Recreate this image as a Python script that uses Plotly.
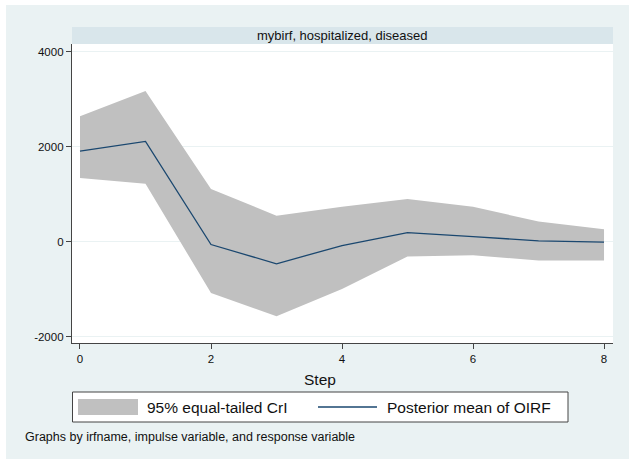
import plotly.graph_objects as go

steps = [0, 1, 2, 3, 4, 5, 6, 7, 8]
oirf_mean = [1905, 2109, -63, -468, -84, 189, 105, 15, -13]
cri_upper = [2641, 3172, 1107, 546, 735, 897, 735, 420, 260]
cri_lower = [1338, 1218, -1084, -1576, -1000, -315, -286, -399, -399]

panel_title = "mybirf, hospitalized, diseased"
x_title = "Step"
legend_labels = ["95% equal-tailed CrI", "Posterior mean of OIRF"]
note_text = "Graphs by irfname, impulse variable, and response variable"
x_ticks = [0, 2, 4, 6, 8]
y_ticks = [-2000, 0, 2000, 4000]
y_tick_labels = ["-2000", "0", "2000", "4000"]

W, H = 629, 459
ML, MR, MT, MB = 72, 16, 44, 116
PW, PH = W - ML - MR, H - MT - MB

def px(x):
    return (x - ML) / PW

def py(y):
    return (H - MB - y) / PH

FONT = "Liberation Sans, Arial, sans-serif"
BG = "#EAF2F3"
STRIP = "#D9E6EB"
FILL = "#C0C0C0"
LINE = "#1A476F"
AX = "#444444"

fig = go.Figure()
fig.add_trace(go.Scatter(x=steps, y=cri_lower, mode="lines", line=dict(width=0, color=FILL),
                         showlegend=False, hoverinfo="skip"))
fig.add_trace(go.Scatter(x=steps, y=cri_upper, mode="lines", line=dict(width=0, color=FILL),
                         fill="tonexty", fillcolor=FILL, showlegend=False, name=legend_labels[0]))
fig.add_trace(go.Scatter(x=steps, y=oirf_mean, mode="lines", line=dict(width=1.3, color=LINE),
                         showlegend=False, name=legend_labels[1]))

shapes = [
    # white outer border (left and top)
    dict(type="rect", xref="paper", yref="paper", x0=px(0), x1=px(6), y0=py(H), y1=py(0),
         fillcolor="white", line=dict(width=0), layer="above"),
    dict(type="rect", xref="paper", yref="paper", x0=px(0), x1=px(W), y0=py(5), y1=py(0),
         fillcolor="white", line=dict(width=0), layer="above"),
    # strip
    dict(type="rect", xref="paper", yref="paper", x0=0, x1=1, y0=1, y1=py(27),
         fillcolor=STRIP, line=dict(width=0)),
    # legend box
    dict(type="rect", xref="paper", yref="paper", x0=px(72.5), x1=px(568), y0=py(422), y1=py(392),
         fillcolor="white", line=dict(width=1, color=AX)),
    dict(type="rect", xref="paper", yref="paper", x0=px(78), x1=px(138), y0=py(415), y1=py(399),
         fillcolor=FILL, line=dict(width=0)),
    dict(type="line", xref="paper", yref="paper", x0=px(318), x1=px(377), y0=py(407), y1=py(407),
         line=dict(width=1.3, color=LINE)),
]

annotations = [
    dict(text=panel_title, xref="paper", yref="paper", x=px(342.5), y=py(35.5),
         xanchor="center", yanchor="middle", showarrow=False, font=dict(size=13, color="#111")),
    dict(text=x_title, xref="paper", yref="paper", x=px(320), y=py(379),
         xanchor="center", yanchor="middle", showarrow=False, font=dict(size=15.5, color="#111")),
    dict(text=legend_labels[0], xref="paper", yref="paper", x=px(145), y=py(407),
         xanchor="left", yanchor="middle", showarrow=False, font=dict(size=15.5, color="#111")),
    dict(text=legend_labels[1], xref="paper", yref="paper", x=px(385), y=py(407),
         xanchor="left", yanchor="middle", showarrow=False, font=dict(size=15.5, color="#111")),
    dict(text=note_text, xref="paper", yref="paper", x=px(23), y=py(437),
         xanchor="left", yanchor="middle", showarrow=False, font=dict(size=12.5, color="#111")),
]

fig.update_layout(
    width=W, height=H, margin=dict(l=ML, r=MR, t=MT, b=MB, pad=0),
    paper_bgcolor=BG, plot_bgcolor="white",
    font=dict(family=FONT, color="#111"),
    showlegend=False, shapes=shapes, annotations=annotations,
    xaxis=dict(range=[-0.122, 8.137], tickvals=x_ticks, ticks="outside", ticklen=5, tickwidth=1,
               tickcolor=AX, showline=True, linecolor=AX, linewidth=1.3, showgrid=False,
               zeroline=False, tickfont=dict(size=11.5, color="#111")),
    yaxis=dict(range=[-2137, 4162], tickvals=y_ticks, ticktext=y_tick_labels, ticks="outside",
               ticklen=5, tickwidth=1, tickcolor=AX, showline=True, linecolor=AX, linewidth=1.3,
               showgrid=True, gridcolor=BG, gridwidth=1, zeroline=False,
               tickfont=dict(size=11.5, color="#111")),
)

fig.write_html("out.html")
